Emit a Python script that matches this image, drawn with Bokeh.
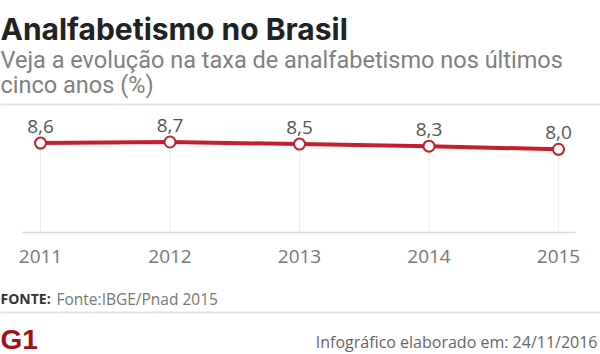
from bokeh.plotting import figure
from bokeh.models import Range1d
from bokeh.core.properties import value
from bokeh.embed import file_html
from bokeh.resources import INLINE

# ---- data ----
years = [2011, 2012, 2013, 2014, 2015]
rates = [8.6, 8.7, 8.5, 8.3, 8.0]
year_labels = [str(y) for y in years]
rate_labels = [f"{v:.1f}".replace(".", ",") for v in rates]

title = "Analfabetismo no Brasil"
subtitle = ["Veja a evolução na taxa de analfabetismo nos últimos", "cinco anos (%)"]
source_label = "FONTE:"
source_text = "Fonte:IBGE/Pnad 2015"
credit = "Infográfico elaborado em: 24/11/2016"

# ---- layout ----
W, H = 600, 354
X_FIRST_PX, STEP_PX = 40, 129.5      # pixel position of first year, pixels per year
Y0_PX, PX_PER_UNIT = 232, 10.4       # pixel row of value 0, pixels per unit

x_start = years[0] - X_FIRST_PX / STEP_PX
x_end = x_start + W / STEP_PX
y_start = -(H - Y0_PX) / PX_PER_UNIT
y_end = y_start + H / PX_PER_UNIT

RED = "#c41f2c"

p = figure(width=W, height=H, output_backend="svg", toolbar_location=None,
           x_range=Range1d(x_start, x_end), y_range=Range1d(y_start, y_end),
           x_axis_location=None, y_axis_location=None, min_border=0,
           title_location=None,
           outline_line_color=None, background_fill_color="white",
           border_fill_color="white")
p.grid.visible = False
p.extra_x_ranges = {"px": Range1d(0, W)}
p.extra_y_ranges = {"px": Range1d(H, 0)}   # top-down pixel coordinates for layout

PX = dict(x_range_name="px", y_range_name="px")

# rules
p.segment(x0=[0, 0], y0=[104, 312], x1=[W, W], y1=[104, 312],
          line_color="#e4e4e4", line_width=2, **PX)
p.segment(x0=[22], y0=[Y0_PX], x1=[575], y1=[Y0_PX],
          line_color="#d9d9d9", line_width=1.5, **PX)

# vertical guides from baseline to each point
p.segment(x0=years, y0=[0] * len(years), x1=years, y1=rates,
          line_color="#dcdcdc", line_width=1, line_dash="1 1")

# series
p.line(years, rates, line_color=RED, line_width=4)
p.scatter(years, rates, size=11, fill_color="white", line_color=RED, line_width=2)

# value labels
p.text(years, rates, text=rate_labels, y_offset=-17, text_align="center",
       text_baseline="middle", text_font=value("Open Sans"),
       text_font_size="19px", text_color="#555555")
# year labels
p.text(years, [0] * len(years), text=year_labels, y_offset=24, text_align="center",
       text_baseline="middle", text_font=value("Open Sans"),
       text_font_size="19px", text_color="#777777")

# title and subtitle
p.text([0], [28], text=[title], text_font=value("Inter"), text_font_style="bold",
       text_font_size="30px", text_color="#222222", text_baseline="alphabetic", **PX)
p.text([0, 0], [59, 84], text=subtitle, text_font=value("Roboto"),
       text_font_size="23.5px", text_color="#808080", text_baseline="alphabetic", **PX)

# footer
p.text([0], [298], text=[source_label], text_font=value("Open Sans"), text_font_style="bold",
       text_font_size="14px", text_color="#333333", text_baseline="alphabetic", **PX)
p.text([56], [298], text=[source_text], text_font=value("Open Sans"),
       text_font_size="15.5px", text_color="#777777", text_baseline="alphabetic", **PX)
p.text([597], [341], text=[credit], text_font=value("Open Sans"), text_align="right",
       text_font_size="16px", text_color="#666666", text_baseline="middle", **PX)
p.text([0], [339], text=["G1"], text_font=value("Liberation Sans"), text_font_style="bold",
       text_font_size="28px", text_color="#a3101a", text_baseline="middle", **PX)

open("out.html", "w").write(file_html(p, INLINE))
